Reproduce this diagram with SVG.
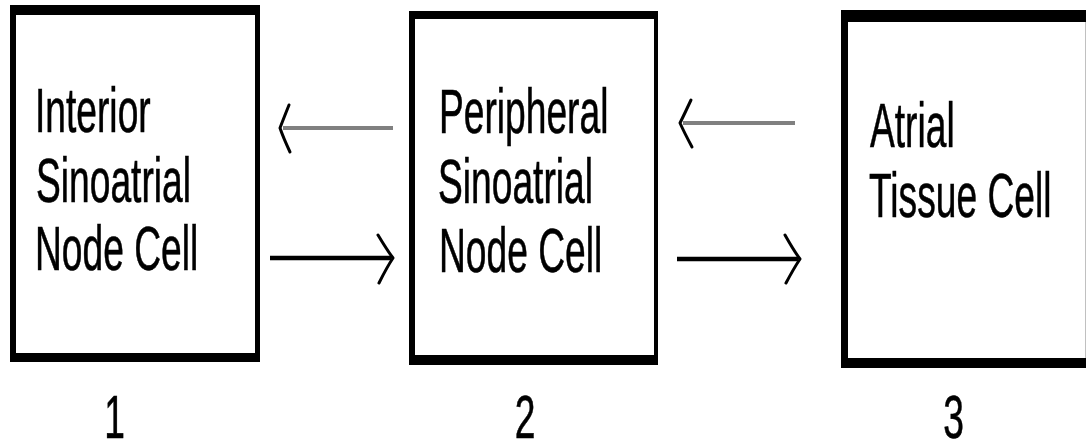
<svg xmlns="http://www.w3.org/2000/svg" width="1086" height="444" viewBox="0 0 1086 444">
  <style>
    .frame { fill: #000000; }
    .inner { fill: #ffffff; }
    .lbl { font-family: "Liberation Sans", Arial, sans-serif; font-size: 63px; fill: #000000; stroke: #000000; stroke-width: 0.6; }
    .num { font-family: "Liberation Sans", Arial, sans-serif; font-size: 62px; fill: #000000; stroke: #000000; stroke-width: 0.6; text-anchor: middle; }
    .back { stroke: #808080; stroke-width: 4; fill: none; }
    .fwd { stroke: #000000; stroke-width: 4.5; fill: none; }
    .head { stroke: #000000; stroke-width: 3; fill: none; stroke-linecap: round; stroke-linejoin: round; }
  </style>
  <rect width="1086" height="444" fill="#ffffff"/>

  <g id="node1">
    <rect class="frame" x="10" y="5" width="250" height="357"/>
    <rect class="inner" x="16" y="15" width="239" height="338"/>
    <g transform="translate(35,0) scale(0.59,1)"><text class="lbl" x="0" y="132">Interior</text></g>
    <g transform="translate(36,0) scale(0.59,1)"><text class="lbl" x="0" y="202">Sinoatrial</text></g>
    <g transform="translate(35,0) scale(0.59,1)"><text class="lbl" x="0" y="270">Node Cell</text></g>
    <g transform="translate(114.5,0) scale(0.6,1)"><text class="num" x="0" y="438">1</text></g>
  </g>

  <g id="node2">
    <rect class="frame" x="409" y="11" width="249" height="354"/>
    <rect class="inner" x="415" y="19" width="239" height="336"/>
    <g transform="translate(439,0) scale(0.59,1)"><text class="lbl" x="0" y="133">Peripheral</text></g>
    <g transform="translate(438,0) scale(0.59,1)"><text class="lbl" x="0" y="203">Sinoatrial</text></g>
    <g transform="translate(439,0) scale(0.59,1)"><text class="lbl" x="0" y="272">Node Cell</text></g>
    <g transform="translate(525,0) scale(0.6,1)"><text class="num" x="0" y="438">2</text></g>
  </g>

  <g id="node3">
    <rect class="frame" x="841" y="10" width="250" height="358"/>
    <rect class="inner" x="848" y="22" width="237" height="336"/>
    <line x1="1085.5" y1="22" x2="1085.5" y2="358" stroke="#c0c0c0" stroke-width="1"/>
    <g transform="translate(870,0) scale(0.59,1)"><text class="lbl" x="0" y="147">Atrial</text></g>
    <g transform="translate(869,0) scale(0.59,1)"><text class="lbl" x="0" y="217">Tissue Cell</text></g>
    <g transform="translate(953.5,0) scale(0.6,1)"><text class="num" x="0" y="438">3</text></g>
  </g>

  <g id="connectors">
    <line class="back" x1="283" y1="128" x2="393" y2="128"/>
    <path class="head" d="M289,105 Q283,120 280,128 Q283,137 290,152"/>
    <line class="fwd" x1="270" y1="258" x2="391" y2="258"/>
    <path class="head" d="M378,235 Q387,250 393,258 Q387,267 379,283"/>

    <line class="back" x1="683" y1="123" x2="795" y2="123"/>
    <path class="head" d="M691,100 Q684,115 680,123 Q684,132 692,147"/>
    <line class="fwd" x1="677" y1="259" x2="798" y2="259"/>
    <path class="head" d="M785,235 Q794,251 800,259 Q794,268 786,283"/>
  </g>
</svg>
